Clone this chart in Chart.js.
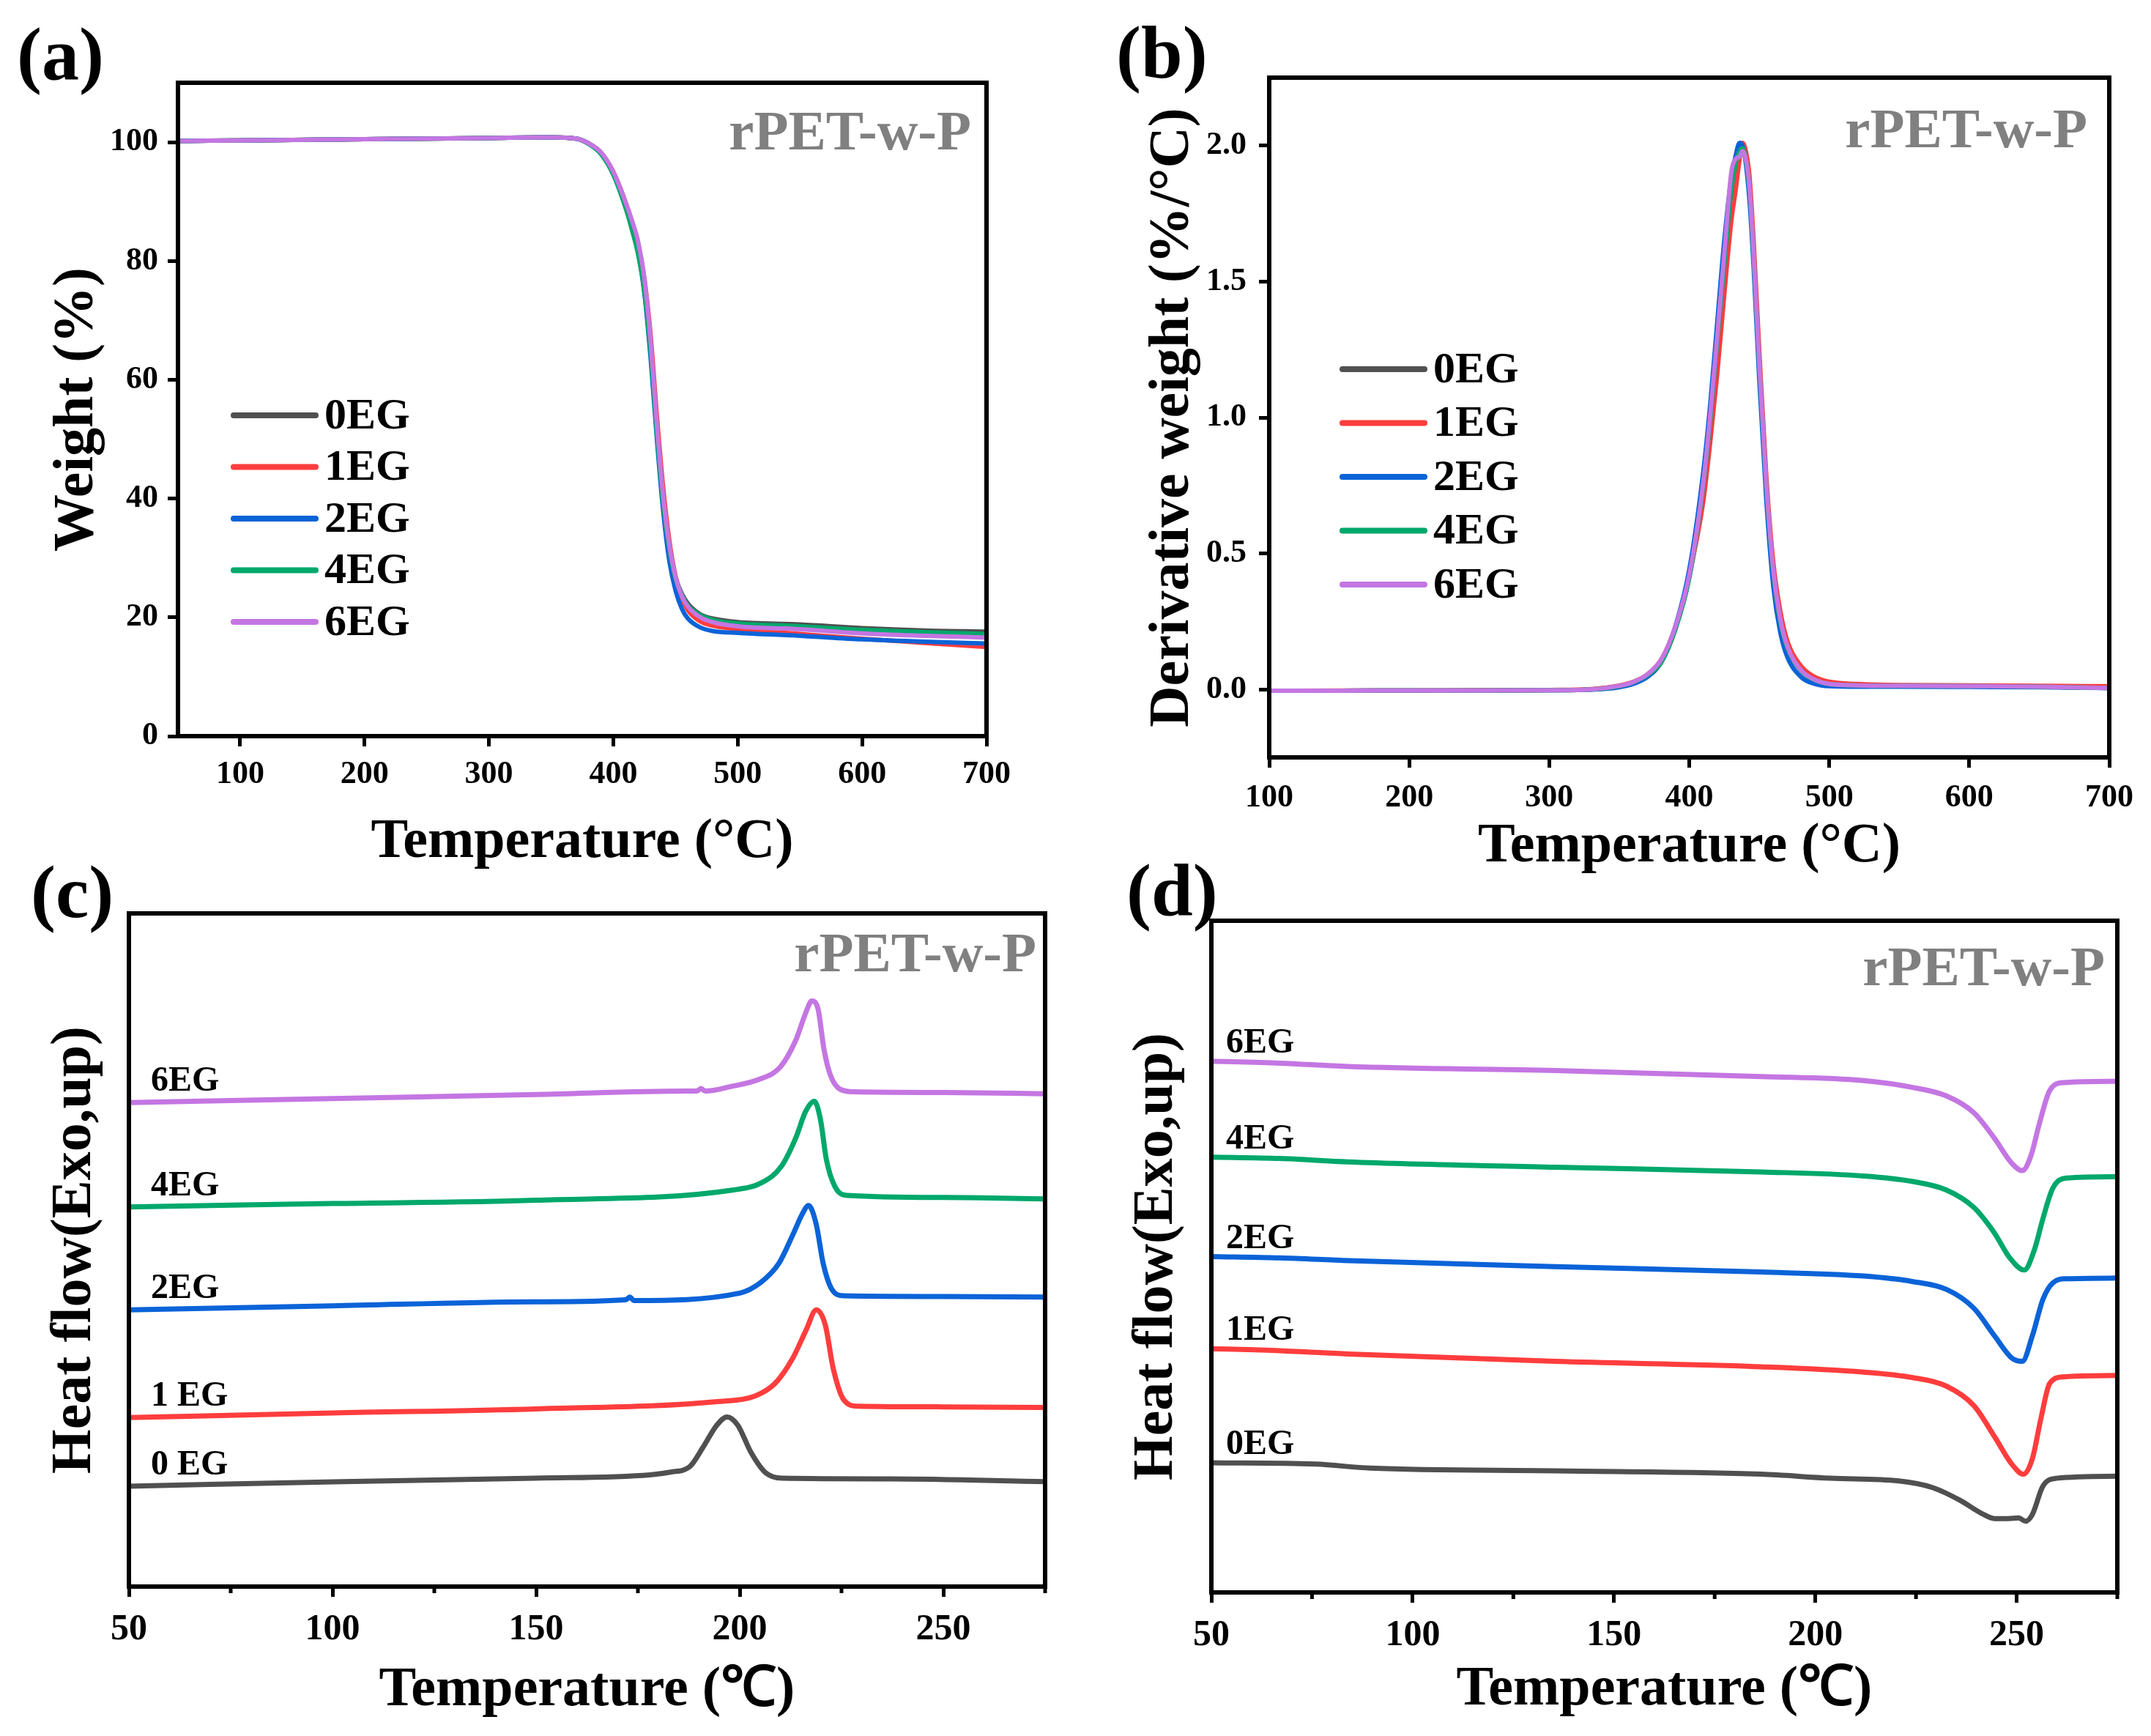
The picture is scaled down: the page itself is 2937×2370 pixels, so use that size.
<!DOCTYPE html>
<html>
<head>
<meta charset="utf-8">
<script src="https://cdn.jsdelivr.net/npm/chart.js@4.4.1/dist/chart.umd.min.js"></script>
<style>
html, body { margin: 0; padding: 0; background: #fff; }
body { width: 2937px; height: 2370px; position: relative; overflow: hidden; }
.panel { position: absolute; }
</style>
</head>
<body>
<div class="panel" style="left:0px;top:0px;width:1468px;height:1200px"><canvas id="ca"></canvas></div>
<div class="panel" style="left:1468px;top:0px;width:1469px;height:1200px"><canvas id="cb"></canvas></div>
<div class="panel" style="left:0px;top:1160px;width:1468px;height:1210px"><canvas id="cc"></canvas></div>
<div class="panel" style="left:1468px;top:1160px;width:1469px;height:1210px"><canvas id="cd"></canvas></div>
<script>
const names = ["0EG", "1EG", "2EG", "4EG", "6EG"]
const colors = ["#505050", "#ff3d3d", "#0b63d8", "#00a86b", "#c476e2"]

// (a) TGA, weight %
const tgaTemp = [50, 100, 200, 300, 350, 370, 380, 390, 400, 410, 415, 420, 425, 430, 435, 440, 445, 450, 455, 460, 470, 480, 500, 550, 600, 650, 700]
const tga0EG = [100.2, 100.3, 100.5, 100.7, 100.8, 100.6, 99.8, 98.2, 94.8, 89.3, 86.0, 82.0, 75.5, 65.0, 51.5, 39.5, 31.8, 26.8, 24.0, 22.3, 20.5, 19.8, 19.2, 18.8, 18.2, 17.8, 17.6]
const tga1EG = [100.2, 100.3, 100.5, 100.7, 100.8, 100.6, 99.8, 98.3, 95.0, 89.8, 86.6, 82.8, 77.0, 67.5, 54.0, 42.0, 33.0, 27.0, 23.4, 21.2, 19.3, 18.6, 18.0, 17.2, 16.4, 15.7, 15.0]
const tga2EG = [100.2, 100.3, 100.5, 100.7, 100.8, 100.6, 99.8, 98.2, 94.8, 89.2, 85.8, 81.5, 74.5, 63.5, 50.0, 38.0, 29.5, 24.5, 21.5, 19.8, 18.3, 17.7, 17.4, 16.9, 16.3, 15.9, 15.6]
const tga4EG = [100.2, 100.3, 100.5, 100.7, 100.8, 100.6, 99.7, 98.0, 94.5, 88.8, 85.2, 81.0, 74.8, 64.5, 51.0, 39.2, 31.5, 26.5, 23.8, 22.0, 20.4, 19.6, 19.0, 18.5, 17.9, 17.5, 17.2]
const tga6EG = [100.2, 100.3, 100.5, 100.7, 100.8, 100.6, 99.8, 98.3, 95.0, 89.8, 86.8, 83.2, 77.0, 66.5, 52.5, 40.5, 32.2, 26.8, 23.6, 21.8, 20.0, 19.2, 18.5, 18.0, 17.3, 16.9, 16.6]
const aXTicks = [100, 200, 300, 400, 500, 600, 700]
const aYTicks = [0, 20, 40, 60, 80, 100]

// (b) DTG, derivative weight %/°C
const dtgTemp = [100, 150, 200, 250, 300, 330, 350, 360, 370, 380, 390, 400, 410, 415, 420, 425, 430, 433, 436, 438, 440, 443, 446, 450, 455, 460, 465, 470, 480, 490, 500, 520, 550, 600, 650, 700]
const dtg0EG = [-0.005, -0.005, -0.004, -0.004, -0.003, 0.0, 0.012, 0.025, 0.05, 0.10, 0.22, 0.41, 0.74, 0.98, 1.27, 1.55, 1.82, 1.93, 1.99, 2.0, 1.97, 1.85, 1.60, 1.20, 0.76, 0.44, 0.26, 0.16, 0.07, 0.035, 0.02, 0.015, 0.013, 0.012, 0.01, 0.005]
const dtg1EG = [-0.005, -0.004, -0.004, -0.003, -0.002, 0.001, 0.014, 0.028, 0.055, 0.11, 0.23, 0.42, 0.69, 0.91, 1.16, 1.45, 1.72, 1.83, 1.95, 2.01, 1.99, 1.89, 1.65, 1.25, 0.79, 0.47, 0.29, 0.18, 0.085, 0.045, 0.028, 0.02, 0.016, 0.015, 0.013, 0.012]
const dtg2EG = [-0.005, -0.005, -0.004, -0.004, -0.003, -0.001, 0.008, 0.02, 0.045, 0.10, 0.23, 0.44, 0.80, 1.05, 1.35, 1.65, 1.88, 1.96, 2.01, 2.0, 1.95, 1.80, 1.55, 1.14, 0.70, 0.38, 0.21, 0.12, 0.045, 0.02, 0.012, 0.01, 0.01, 0.009, 0.008, 0.005]
const dtg4EG = [-0.005, -0.005, -0.004, -0.004, -0.003, 0.0, 0.012, 0.026, 0.052, 0.10, 0.22, 0.41, 0.75, 0.99, 1.28, 1.56, 1.83, 1.93, 1.98, 1.99, 1.96, 1.84, 1.59, 1.19, 0.75, 0.43, 0.25, 0.155, 0.068, 0.034, 0.02, 0.015, 0.013, 0.012, 0.01, 0.005]
const dtg6EG = [-0.005, -0.005, -0.004, -0.004, -0.003, 0.0, 0.013, 0.027, 0.055, 0.11, 0.23, 0.42, 0.76, 1.01, 1.30, 1.60, 1.90, 1.95, 1.96, 1.98, 1.96, 1.85, 1.60, 1.20, 0.76, 0.44, 0.26, 0.16, 0.07, 0.035, 0.02, 0.015, 0.013, 0.012, 0.01, 0.005]
const bXTicks = [100, 200, 300, 400, 500, 600, 700]
const bYTicks = [0, 0.5, 1.0, 1.5, 2.0]

// (c) DSC cooling, heat flow in arbitrary units (curves stacked)
const c0T = [50, 102.6, 150, 178, 183, 187.7, 191, 194.4, 196.9, 199.5, 202.8, 206.2, 210.4, 237, 275]
const c0Y = [14.9, 15.6, 16.1, 16.6, 17.0, 17.8, 20.7, 24.0, 25.2, 24.0, 19.9, 17.0, 16.1, 16.0, 15.6]
const c1T = [50, 100, 150, 195, 203.7, 208.7, 213, 216.3, 218.8, 221, 223, 225.6, 229, 250, 275]
const c1Y = [25.1, 25.8, 26.4, 27.5, 28.3, 30.2, 33.9, 38.1, 41.1, 38.9, 32.3, 27.7, 26.8, 26.7, 26.6]
const c2T = [50, 100, 150, 172, 173, 174, 200, 205, 209.6, 213, 215.5, 216.9, 218.8, 220.5, 222.5, 225.6, 250, 275]
const c2Y = [41.1, 41.7, 42.3, 42.6, 43.0, 42.5, 43.6, 45.1, 48.0, 52.2, 55.5, 56.6, 53.8, 48.0, 44.3, 43.2, 43.1, 43.0]
const c4T = [50, 100, 150, 198.2, 205.4, 210.2, 213.8, 216.2, 218.3, 219.8, 221.3, 223.4, 226.4, 250, 275]
const c4Y = [56.4, 56.9, 57.4, 58.9, 60.0, 62.4, 66.7, 70.6, 72.1, 69.5, 63.4, 59.4, 58.1, 57.8, 57.6]
const c6T = [50, 100, 150, 187, 189.5, 190.5, 191.5, 198, 205, 210, 213.8, 216.2, 217.7, 219.2, 220.7, 222.2, 224.6, 228.2, 250, 275]
const c6Y = [71.9, 72.5, 73.1, 73.6, 73.6, 74.0, 73.6, 74.3, 75.4, 77.2, 81.2, 85.2, 87.0, 85.9, 79.8, 76.1, 73.9, 73.5, 73.4, 73.2]
const cLabels = ["0 EG", "1 EG", "2EG", "4EG", "6EG"]

// (d) DSC heating, heat flow in arbitrary units (curves stacked)
const d0T = [50, 75.9, 89.5, 135.5, 186.6, 203.7, 220.7, 229.2, 236, 241.2, 244.5, 247.9, 250.5, 252.2, 253.9, 256.5, 259.9, 275]
const d0Y = [19.3, 19.1, 18.5, 18.1, 17.6, 17.0, 16.6, 15.6, 13.7, 11.8, 11.0, 11.0, 11.1, 10.6, 11.6, 15.8, 17.0, 17.3]
const d1T = [50, 67, 84, 135.5, 186.6, 212, 224, 232.6, 239.4, 244.5, 248.8, 251.7, 253.9, 256.1, 258.2, 261.6, 275]
const d1Y = [36.3, 36.0, 35.5, 34.4, 33.6, 32.8, 32.0, 30.7, 27.8, 23.2, 19.1, 17.6, 19.9, 26.1, 31.1, 32.1, 32.3]
const d2T = [50, 67, 84, 135.5, 186.6, 212, 224, 232.6, 239.4, 244.5, 248.8, 251.4, 253.9, 256.5, 259, 262.4, 275]
const d2Y = [50.0, 49.8, 49.4, 48.5, 47.7, 47.1, 46.3, 45.1, 42.3, 38.2, 34.9, 34.4, 38.2, 43.6, 46.1, 46.7, 46.8]
const d4T = [50, 67, 84, 135.5, 186.6, 212, 224, 232.6, 239.4, 244.5, 248.3, 251.9, 254.4, 256.5, 259, 262.4, 275]
const d4Y = [64.8, 64.6, 64.1, 63.3, 62.6, 62.0, 61.2, 59.9, 57.3, 53.5, 49.8, 48.0, 51.0, 55.6, 60.2, 61.7, 61.9]
const d6T = [50, 67, 84, 135.5, 186.6, 212, 224, 232.6, 239.4, 244.5, 248.8, 251.4, 253.6, 255.6, 258.2, 261.6, 275]
const d6Y = [79.1, 78.8, 78.3, 77.7, 76.8, 76.2, 75.2, 73.9, 71.4, 67.6, 63.9, 62.8, 65.1, 69.7, 74.7, 75.9, 76.1]
const dLabels = ["0EG", "1EG", "2EG", "4EG", "6EG"]

const dscXTicks = [50, 100, 150, 200, 250]
const dscMinorTicks = [75, 125, 175, 225, 275]

const FONT = "'Liberation Serif', 'Times New Roman', serif"

function series(xs, ys, i, w) {
    return {
        label: names[i],
        data: xs.map((x, k) => ({ x: x, y: ys[k] })),
        borderColor: colors[i],
        borderWidth: w,
        order: 5 - i
    }
}

// frame, panel letter, sample tag, legend / curve labels, minor ticks
const decor = {
    id: "decor",
    afterDraw(chart, args, o) {
        const ctx = chart.ctx
        const a = chart.chartArea
        ctx.save()
        ctx.lineWidth = 6
        ctx.strokeStyle = "#000"
        ctx.strokeRect(a.left, a.top, a.right - a.left, a.bottom - a.top)

        if (o.minor) {
            ctx.lineWidth = 5
            ctx.beginPath()
            dscMinorTicks.forEach(v => {
                const px = chart.scales.x.getPixelForValue(v)
                ctx.moveTo(px, a.bottom)
                ctx.lineTo(px, a.bottom + 9)
            })
            ctx.stroke()
        }

        ctx.fillStyle = "#000"
        ctx.textAlign = "left"
        ctx.textBaseline = "alphabetic"
        ctx.font = "bold 102px " + FONT
        ctx.fillText(o.letter, o.letterX, o.letterY)

        ctx.fillStyle = "#808080"
        ctx.textAlign = "right"
        ctx.font = "bold 77px " + FONT
        ctx.fillText("rPET-w-P", a.right - o.tagDx, a.top + o.tagDy)

        if (o.legend) {
            ctx.font = "bold 60px " + FONT
            ctx.textAlign = "left"
            ctx.textBaseline = "middle"
            ctx.lineCap = "round"
            ctx.lineWidth = 8
            names.forEach((n, i) => {
                const y = o.legendY + i * o.legendDy
                ctx.strokeStyle = colors[i]
                ctx.beginPath()
                ctx.moveTo(o.legendX, y)
                ctx.lineTo(o.legendX + 112, y)
                ctx.stroke()
                ctx.fillStyle = "#000"
                ctx.fillText(n, o.legendX + 124, y + 2)
            })
        }

        if (o.curveLabels) {
            ctx.font = "bold 48px " + FONT
            ctx.textAlign = "left"
            ctx.textBaseline = "alphabetic"
            ctx.fillStyle = "#000"
            chart.data.datasets.forEach((ds, i) => {
                const y = chart.scales.y.getPixelForValue(ds.data[0].y)
                ctx.fillText(o.curveLabels[i], a.left + o.labelDx, y - o.labelDy)
            })
        }
        ctx.restore()
    }
}

function panel(id, rect, area, cfg) {
    const xTs = 76
    const yTs = 78
    const yW = area.l - rect.x
    const xH = rect.y + rect.h - area.b
    const tickFont = { family: FONT, weight: "bold", size: cfg.tickSize }
    return new Chart(document.getElementById(id), {
        type: "line",
        data: { datasets: cfg.datasets },
        options: {
            responsive: true,
            maintainAspectRatio: false,
            animation: false,
            devicePixelRatio: 1,
            layout: { padding: { left: 0, bottom: 0, top: area.t - rect.y, right: rect.x + rect.w - area.r } },
            elements: {
                point: { radius: 0 },
                line: { cubicInterpolationMode: "monotone", borderCapStyle: "round", borderJoinStyle: "round" }
            },
            plugins: {
                legend: { display: false },
                tooltip: { enabled: false },
                decor: cfg.decor
            },
            scales: {
                x: {
                    type: "linear",
                    min: cfg.xMin,
                    max: cfg.xMax,
                    afterBuildTicks: s => { s.ticks = cfg.xTicks.map(v => ({ value: v })) },
                    afterFit: s => { s.height = xH },
                    border: { display: false },
                    grid: { drawOnChartArea: false, drawTicks: true, tickLength: 14, tickWidth: 5, tickColor: "#000" },
                    ticks: { color: "#000", font: tickFont, padding: cfg.xPad, maxRotation: 0, autoSkip: false },
                    title: {
                        display: true, text: cfg.xTitle, color: "#000",
                        font: { family: FONT, weight: "bold", size: xTs, lineHeight: 1 },
                        padding: { top: 0, bottom: rect.h - xTs / 2 - (cfg.xTitleY - rect.y) }
                    }
                },
                y: {
                    type: "linear",
                    min: cfg.yMin,
                    max: cfg.yMax,
                    afterBuildTicks: s => { s.ticks = (cfg.yTicks || []).map(v => ({ value: v })) },
                    afterFit: s => { s.width = yW },
                    border: { display: false },
                    grid: { drawOnChartArea: false, drawTicks: !!cfg.yTicks, tickLength: 14, tickWidth: 5, tickColor: "#000" },
                    ticks: {
                        display: !!cfg.yTicks, color: "#000", font: tickFont, padding: cfg.yPad, autoSkip: false,
                        callback: cfg.yFmt || (v => v)
                    },
                    title: {
                        display: true, text: cfg.yTitle, color: "#000",
                        font: { family: FONT, weight: "bold", size: yTs, lineHeight: 1 },
                        padding: { top: cfg.yTitleX - rect.x - yTs / 2, bottom: 0 }
                    }
                }
            }
        },
        plugins: [decor]
    })
}

panel("ca", { x: 0, y: 0, w: 1468, h: 1200 }, { l: 243, t: 113, r: 1347, b: 1005 }, {
    datasets: [tga0EG, tga1EG, tga2EG, tga4EG, tga6EG].map((ys, i) => series(tgaTemp, ys, i, 6)),
    xMin: 50, xMax: 700, xTicks: aXTicks,
    yMin: 0, yMax: 110, yTicks: aYTicks,
    tickSize: 44, xPad: 12, yPad: 13,
    xTitle: "Temperature (°C)", xTitleY: 1150,
    yTitle: "Weight (%)", yTitleX: 106,
    decor: { letter: "(a)", letterX: 23, letterY: 108, tagDx: 21, tagDy: 91, legend: true, legendX: 319, legendY: 567, legendDy: 70.5 }
})

panel("cb", { x: 1468, y: 0, w: 1469, h: 1200 }, { l: 1733, t: 106, r: 2880, b: 1034 }, {
    datasets: [dtg0EG, dtg1EG, dtg2EG, dtg4EG, dtg6EG].map((ys, i) => series(dtgTemp, ys, i, 6)),
    xMin: 100, xMax: 700, xTicks: bXTicks,
    yMin: -0.25, yMax: 2.25, yTicks: bYTicks, yFmt: v => v.toFixed(1),
    tickSize: 44, xPad: 15, yPad: 17,
    xTitle: "Temperature (°C)", xTitleY: 1156,
    yTitle: "Derivative weight (%/°C)", yTitleX: 1602,
    decor: { letter: "(b)", letterX: 56, letterY: 106, tagDx: 30, tagDy: 95, legend: true, legendX: 365, legendY: 504, legendDy: 73.5 }
})

panel("cc", { x: 0, y: 1160, w: 1468, h: 1210 }, { l: 176, t: 1247, r: 1427, b: 2166 }, {
    datasets: [[c0T, c0Y], [c1T, c1Y], [c2T, c2Y], [c4T, c4Y], [c6T, c6Y]].map((s, i) => series(s[0], s[1], i, 7)),
    xMin: 50, xMax: 275, xTicks: dscXTicks,
    yMin: 0, yMax: 100,
    tickSize: 50, xPad: 15, yPad: 0,
    xTitle: "Temperature (℃)", xTitleY: 2308,
    yTitle: "Heat flow(Exo,up)", yTitleX: 103,
    decor: { letter: "(c)", letterX: 42, letterY: 92, tagDx: 12, tagDy: 79, minor: true, curveLabels: cLabels, labelDx: 30, labelDy: 16 }
})

panel("cd", { x: 1468, y: 1160, w: 1469, h: 1210 }, { l: 1654, t: 1257, r: 2891, b: 2174 }, {
    datasets: [[d0T, d0Y], [d1T, d1Y], [d2T, d2Y], [d4T, d4Y], [d6T, d6Y]].map((s, i) => series(s[0], s[1], i, 7)),
    xMin: 50, xMax: 275, xTicks: dscXTicks,
    yMin: 0, yMax: 100,
    tickSize: 50, xPad: 15, yPad: 0,
    xTitle: "Temperature (℃)", xTitleY: 2307,
    yTitle: "Heat flow(Exo,up)", yTitleX: 1580,
    decor: { letter: "(d)", letterX: 70, letterY: 90, tagDx: 17, tagDy: 88, minor: true, curveLabels: dLabels, labelDx: 20, labelDy: 12 }
})
</script>
</body>
</html>
